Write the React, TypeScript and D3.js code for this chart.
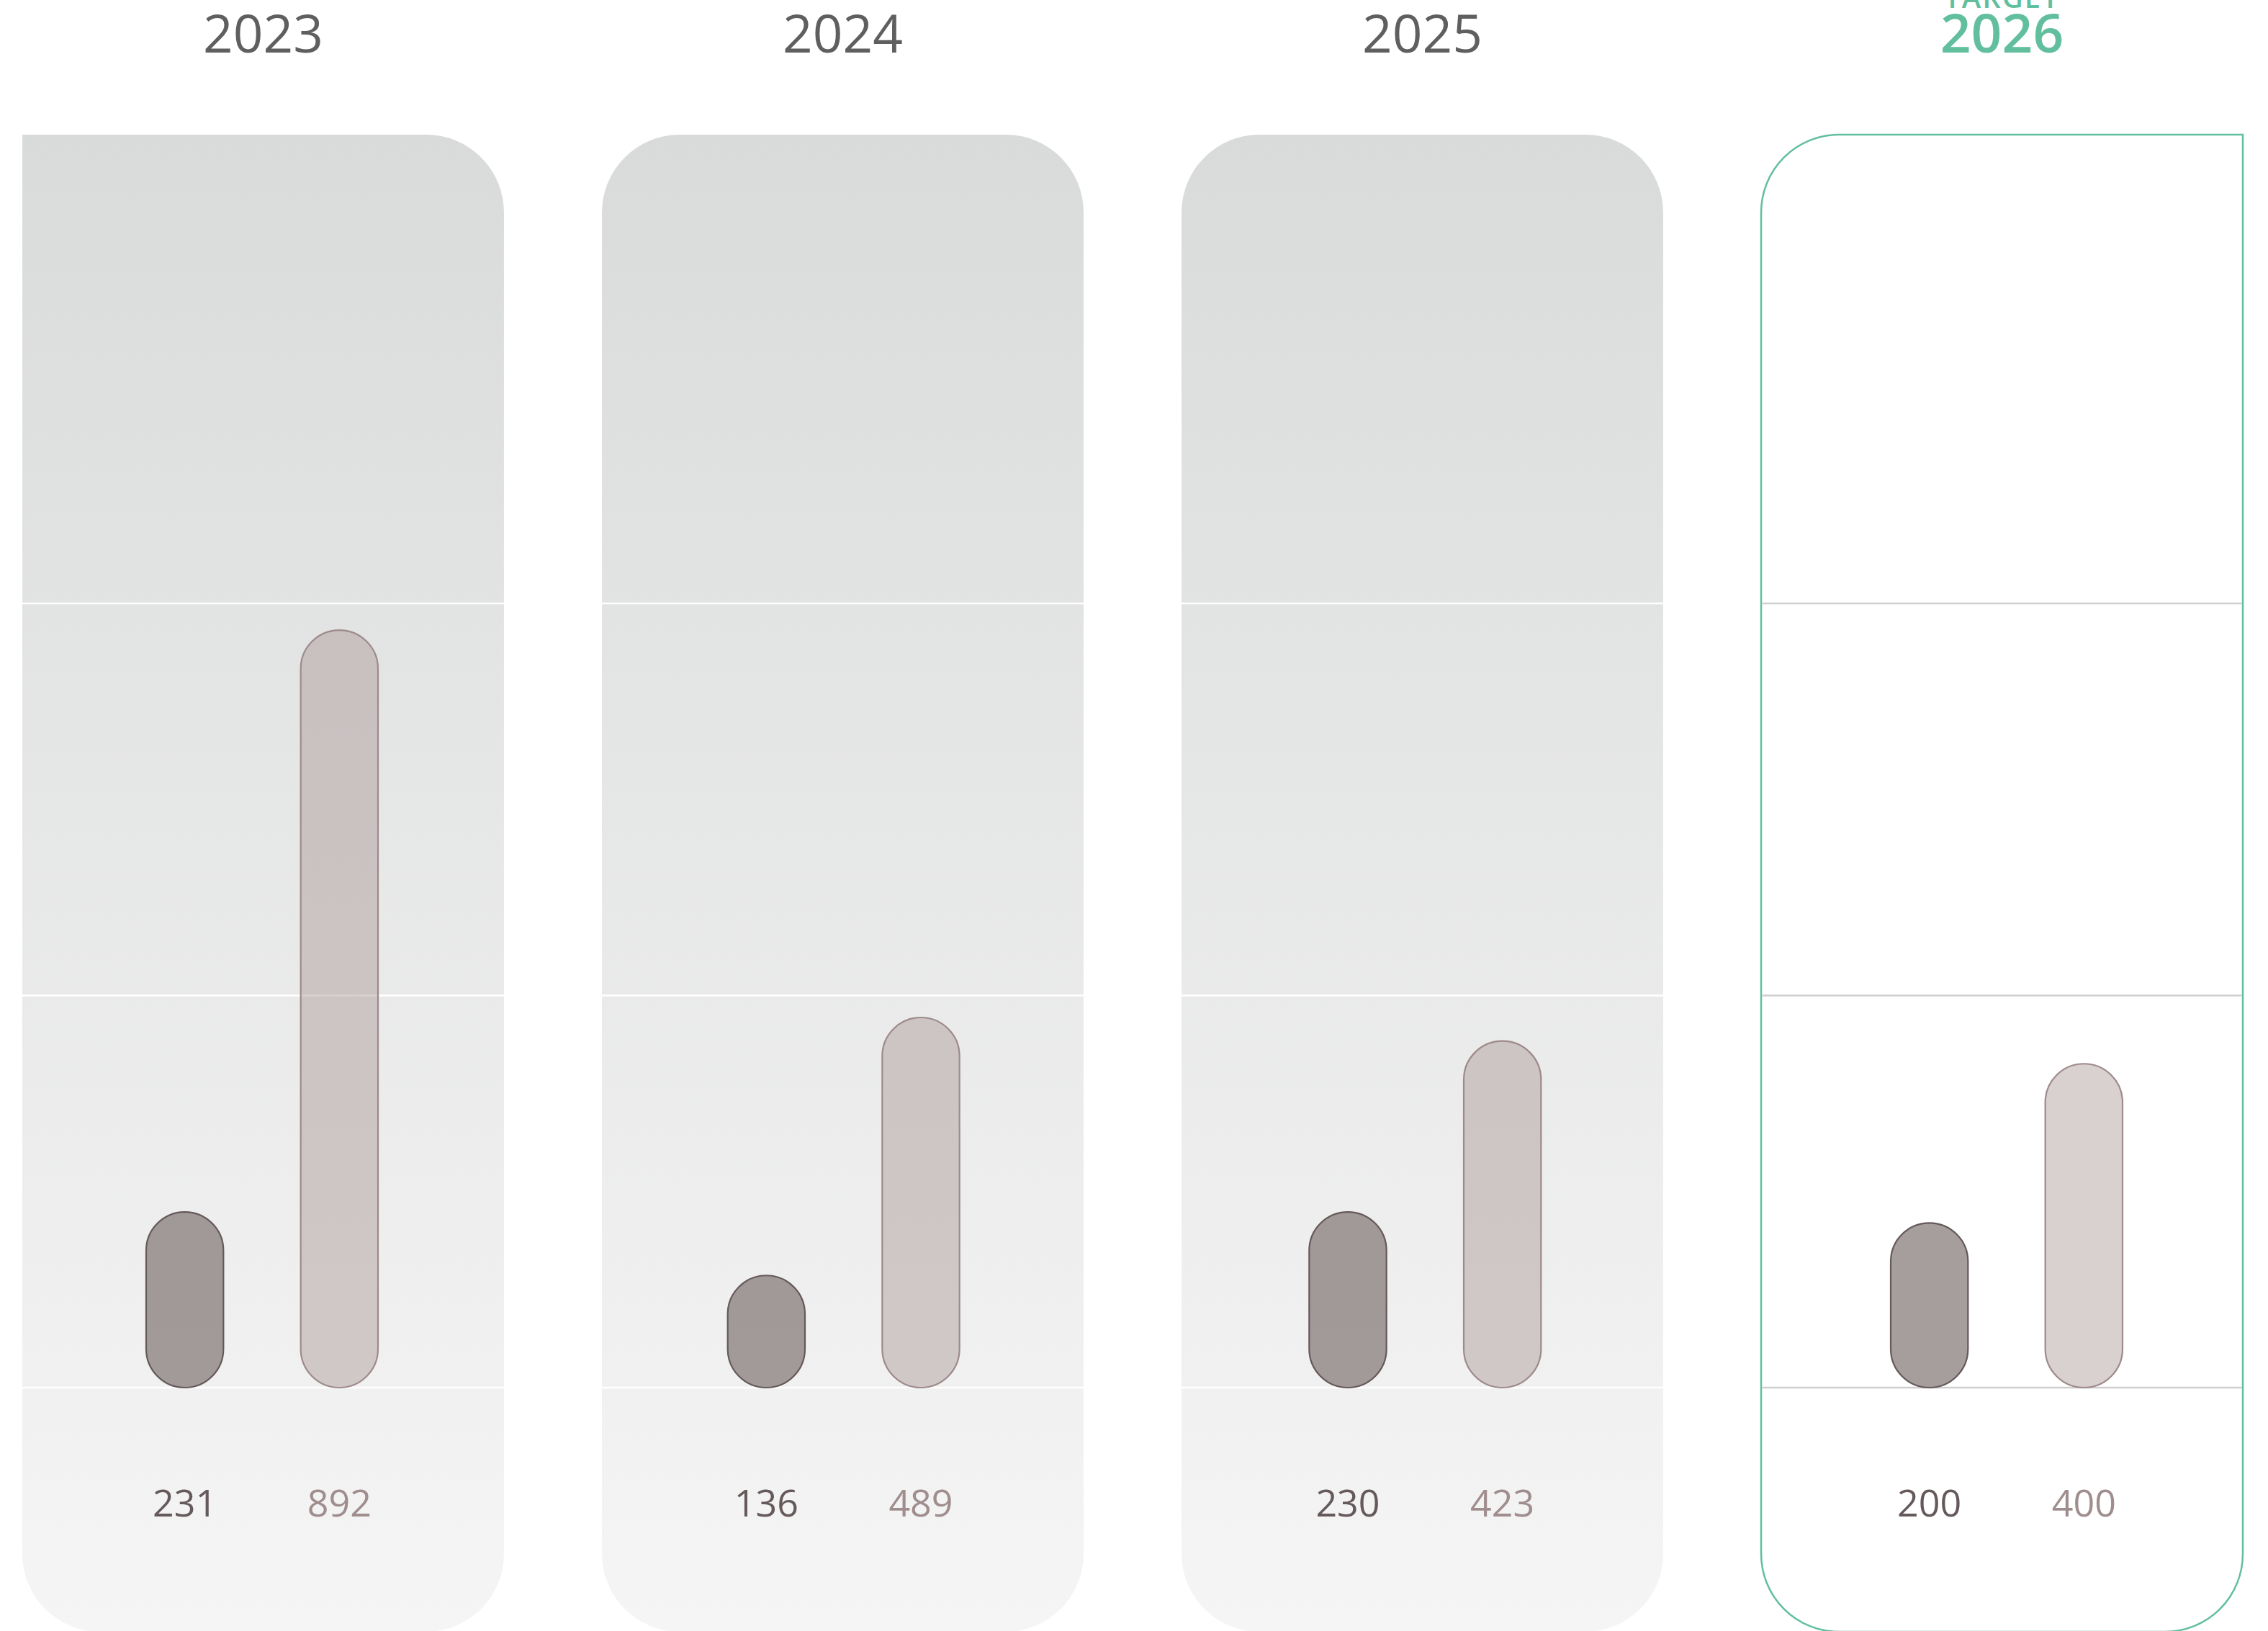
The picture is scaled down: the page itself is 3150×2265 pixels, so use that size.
import React from "react";
import { scaleBand, scaleLinear, scalePoint } from "d3";

// years shown as column titles
const years = ["2023", "2024", "2025", "2026"];
// printed values under the bars
const labelsA = [231, 136, 230, 200];
const labelsB = [892, 489, 423, 400];
// bar heights, in grid units (gridlines at 0 / 500 / 1000)
const barsA = [224, 143, 224, 210];
const barsB = [966, 472, 442, 413];
const yTicks = [0, 500, 1000];

const W = 3150;
const H = 2265;
const PANEL_TOP = 187;
const PANEL_BOTTOM = 2266;
const R = 108;
const GREEN = "#62bf9e";

function panelPath(x0, x1, y0, y1, r, squareTL, squareTR) {
  const tl = squareTL ? 0 : r;
  const tr = squareTR ? 0 : r;
  return `M${x0 + tl},${y0}` +
    `H${x1 - tr}` +
    (tr ? `A${tr},${tr} 0 0 1 ${x1},${y0 + tr}` : "") +
    `V${y1 - r}A${r},${r} 0 0 1 ${x1 - r},${y1}` +
    `H${x0 + r}A${r},${r} 0 0 1 ${x0},${y1 - r}` +
    `V${y0 + tl}` +
    (tl ? `A${tl},${tl} 0 0 1 ${x0 + tl},${y0}` : "") + "Z";
}

export default function App() {
  const x = scaleBand().domain(years).range([31, 3115]).paddingInner(0.169);
  const groupX = scalePoint().domain(years).range([364, 2787]);
  const y = scaleLinear().domain([0, 1000]).range([1927, 838]);
  const bw = x.bandwidth();

  return (
    <div style={{ position: "absolute", left: 0, top: 0 }}>
      <svg width={W} height={H} style={{ display: "block", background: "#fff" }}>
        <defs>
          <linearGradient id="panelGrad" gradientUnits="userSpaceOnUse" x1="0" y1={PANEL_TOP} x2="0" y2={PANEL_BOTTOM}>
            <stop offset="0" stopColor="#d9dbda" />
            <stop offset="1" stopColor="#f5f5f5" />
          </linearGradient>
        </defs>
        {years.map((yr, i) => {
          const x0 = x(yr);
          const x1 = x0 + bw;
          const cx = x0 + bw / 2;
          const gx = groupX(yr);
          const isTarget = i === years.length - 1;
          const inner = scaleBand().domain(["a", "b"]).range([gx - 161, gx + 161]).paddingInner(0.5);
          const iw = inner.bandwidth();
          return (
            <g key={yr}>
              <path
                d={panelPath(x0, x1, PANEL_TOP, PANEL_BOTTOM, R, i === 0, isTarget)}
                fill={isTarget ? "#fff" : "url(#panelGrad)"}
                stroke={isTarget ? GREEN : "none"}
                strokeWidth={2.5}
              />
              {yTicks.map(t => (
                <line key={t} x1={x0 + (isTarget ? 1.5 : 0)} x2={x1 - (isTarget ? 1.5 : 0)} y1={y(t)} y2={y(t)}
                  stroke={isTarget ? "#cfcfcf" : "#ffffff"} strokeWidth={2.5} />
              ))}
              <rect x={inner("a")} y={y(barsA[i])} width={iw} height={y(0) - y(barsA[i])} rx={iw / 2}
                fill="#807473" fillOpacity={0.7} stroke="#65595a" strokeWidth={2.2} />
              <rect x={inner("b")} y={y(barsB[i])} width={iw} height={y(0) - y(barsB[i])} rx={iw / 2}
                fill="#a58e8e" fillOpacity={0.42} stroke="#9e8a8b" strokeWidth={2.2} />
              <text x={inner("a") + iw / 2} y={2106} textAnchor="middle" fill="#65595a"
                style={{ fontFamily: "'Open Sans', sans-serif", fontSize: 52 }}>{labelsA[i]}</text>
              <text x={inner("b") + iw / 2} y={2106} textAnchor="middle" fill="#a08d8e"
                style={{ fontFamily: "'Open Sans', sans-serif", fontSize: 52 }}>{labelsB[i]}</text>
              {isTarget && (
                <text x={cx} y={11} textAnchor="middle" fill={GREEN}
                  style={{ fontFamily: "'Open Sans', sans-serif", fontSize: 40, fontWeight: 600, letterSpacing: 2 }}>TARGET</text>
              )}
              <text x={cx} y={73} textAnchor="middle" fill={isTarget ? GREEN : "#5f5f5f"}
                style={{ fontFamily: "'Open Sans', sans-serif", fontSize: isTarget ? 75 : 73, fontWeight: isTarget ? 600 : 400 }}>{yr}</text>
            </g>
          );
        })}
      </svg>
    </div>
  );
}
